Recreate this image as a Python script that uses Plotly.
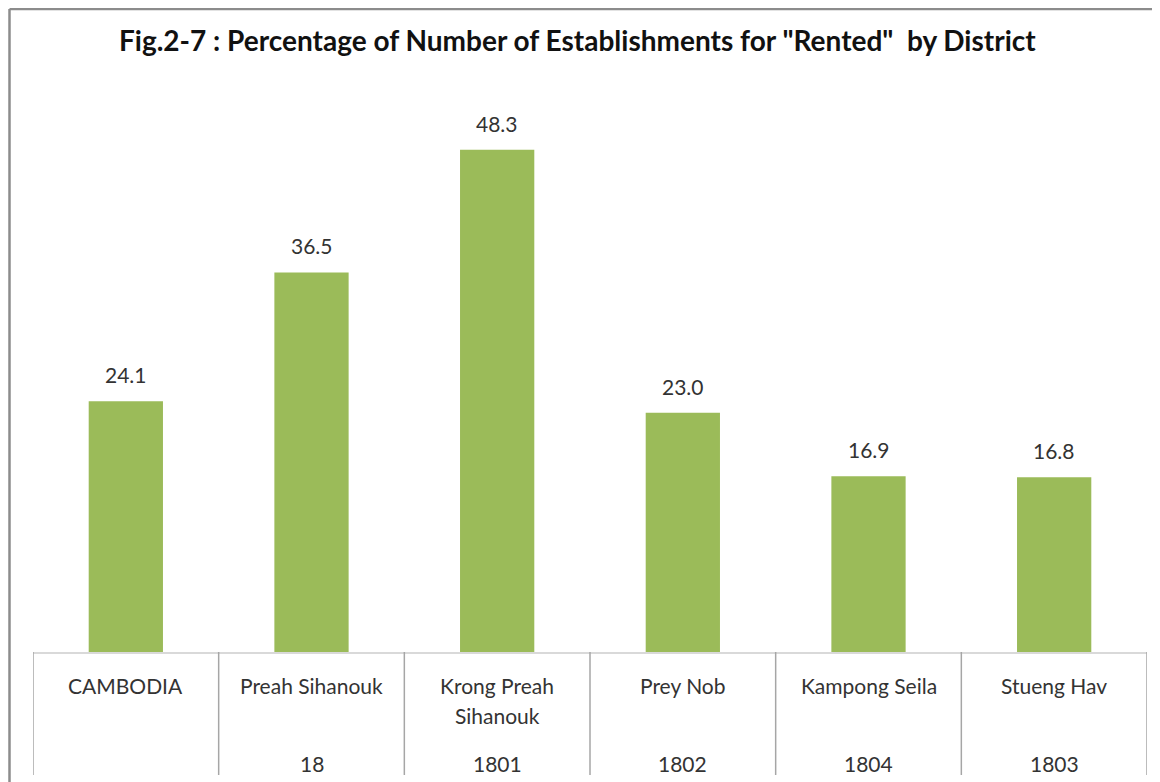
import plotly.graph_objects as go

categories = ["CAMBODIA", "Preah Sihanouk", "Krong Preah<br>Sihanouk", "Prey Nob", "Kampong Seila", "Stueng Hav"]
codes = ["", "18", "1801", "1802", "1804", "1803"]
values = [24.1, 36.5, 48.3, 23.0, 16.9, 16.8]
title_text = 'Fig.2-7 : Percentage of Number of Establishments for "Rented"  by District'

FONT = "Lato, Open Sans, sans-serif"
TXT = "#333333"

x_idx = list(range(len(categories)))

fig = go.Figure()
fig.add_trace(go.Bar(x=x_idx, y=values, marker=dict(color="#9BBB59", line=dict(width=0)),
                     width=0.40, hoverinfo="skip"))

ann = []
# data labels
for i, v in zip(x_idx, values):
    ann.append(dict(x=i, y=v, xref="x", yref="y", text=f"{v:.1f}", showarrow=False,
                    yanchor="bottom", yshift=12, font=dict(family=FONT, size=21, color=TXT)))
# category labels (each line placed 30px apart)
for i, c in zip(x_idx, categories):
    for k, line in enumerate(c.split("<br>")):
        ann.append(dict(x=i, y=0, xref="x", yref="paper", text=line, showarrow=False,
                        yanchor="middle", yshift=-33 - 30 * k,
                        font=dict(family=FONT, size=21, color=TXT)))
# codes row
for i, c in zip(x_idx, codes):
    if c:
        ann.append(dict(x=i, y=0, xref="x", yref="paper", text=c, showarrow=False,
                        yanchor="middle", yshift=-111,
                        font=dict(family=FONT, size=21, color=TXT)))
# title
ann.append(dict(x=0.489, y=1.1769, xref="paper", yref="paper", text=f"<b>{title_text}</b>",
                showarrow=False, xanchor="center", yanchor="middle",
                font=dict(family=FONT, size=28, color="#111111")))

shapes = []
# separators
for b in [i - 0.5 for i in x_idx] + [len(categories) - 0.5]:
    shapes.append(dict(type="line", xref="x", yref="paper", x0=b, x1=b, y0=0, y1=-0.2365,
                       line=dict(color="#A6A6A6", width=1.5)))
# chart border (left and top edges)
shapes.append(dict(type="line", xref="paper", yref="paper", x0=-0.0211, x1=-0.0211, y0=1.2365, y1=-0.30,
                   line=dict(color="#8C8C8C", width=2.5)))
shapes.append(dict(type="line", xref="paper", yref="paper", x0=-0.0211, x1=1.02, y0=1.2365, y1=1.2365,
                   line=dict(color="#8C8C8C", width=2.5)))

fig.update_layout(
    width=1152, height=774,
    margin=dict(l=25, r=13, t=124, b=130),
    paper_bgcolor="white", plot_bgcolor="white",
    showlegend=False,
    xaxis=dict(range=[-0.5, len(categories) - 0.5], showticklabels=False, ticks="",
               showgrid=False, zeroline=False, showline=True, linecolor="#D9D9D9", linewidth=1.5,
               fixedrange=True),
    yaxis=dict(range=[0, 50], visible=False, showgrid=False, zeroline=False, fixedrange=True),
    annotations=ann, shapes=shapes,
    bargap=0.6,
)

fig.write_html("out.html")
